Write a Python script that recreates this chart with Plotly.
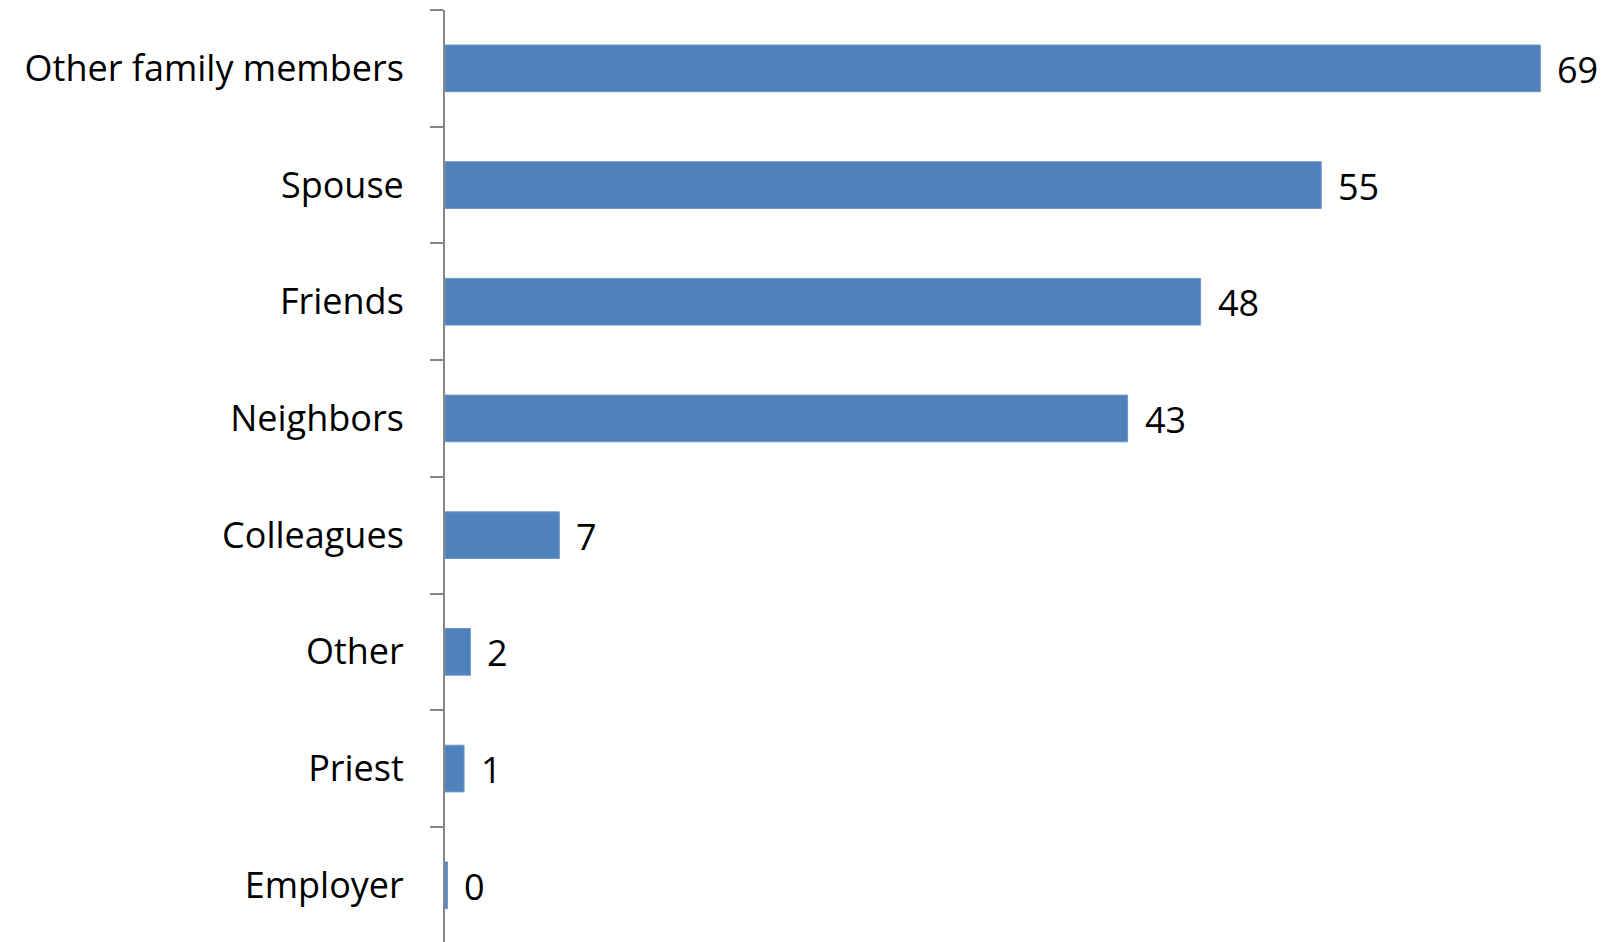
import plotly.graph_objects as go

categories = ["Other family members", "Spouse", "Friends", "Neighbors",
              "Colleagues", "Other", "Priest", "Employer"]
values = [69.0, 55.2, 47.6, 43.0, 7.2, 1.6, 1.2, 0.15]
labels = ["69", "55", "48", "43", "7", "2", "1", "0"]

FONT = "Open Sans"
FS = 36

fig = go.Figure()
fig.add_trace(go.Bar(
    x=values, y=categories, orientation="h",
    marker=dict(color="#4F81BD", line=dict(color="#6E95C8", width=1)),
    width=0.4,
    hoverinfo="skip",
))

for v, c, t in zip(values, categories, labels):
    fig.add_annotation(x=v, y=c, text=t, showarrow=False, xanchor="left",
                       yanchor="middle", xshift=15, yshift=-1,
                       font=dict(family=FONT, size=FS, color="black"))

fig.update_layout(
    width=1599, height=934,
    margin=dict(l=437, r=0, t=2, b=0),
    paper_bgcolor="white", plot_bgcolor="white",
    showlegend=False,
    xaxis=dict(range=[0, 73.2], visible=False, fixedrange=True),
    yaxis=dict(
        type="category",
        categoryorder="array", categoryarray=categories,
        range=[7.486, -0.5],
        showline=True, linecolor="#868686", linewidth=2,
        ticks="outside", tickson="boundaries", ticklen=13,
        tickcolor="#868686", tickwidth=2,
        showgrid=False, zeroline=False,
        tickfont=dict(family=FONT, size=FS, color="black"),
        ticklabelstandoff=32,
    ),
)

fig.write_html("out.html")
